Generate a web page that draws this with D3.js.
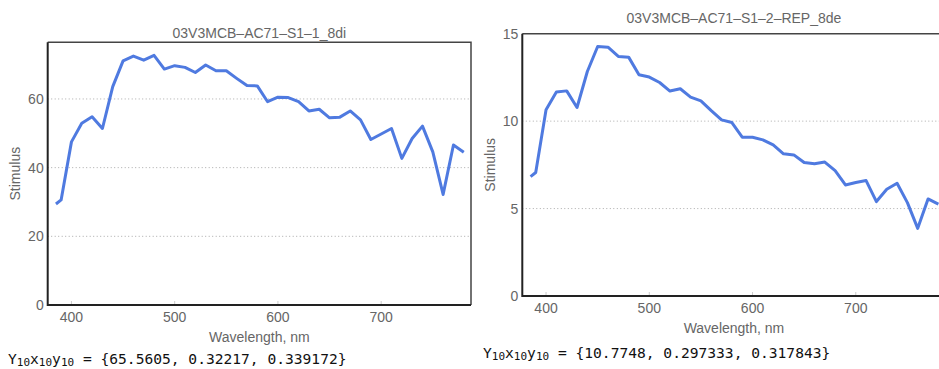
<!DOCTYPE html>
<html>
<head>
<meta charset="utf-8">
<script src="https://cdn.jsdelivr.net/npm/d3@7"></script>
<style>
  body { margin: 0; background: #fff; }
  svg { display: block; }
  text { font-family: "Liberation Sans", Arial, sans-serif; fill: #666; }
  .mono { font-family: "DejaVu Sans Mono", monospace; fill: #111; }
</style>
</head>
<body>
<div id="chart"></div>
<script>
const wavelengths = [385, 390, 400, 410, 420, 430, 440, 450, 460, 470, 480, 490, 500, 510, 520,
    530, 540, 550, 560, 570, 580, 590, 600, 610, 620, 630, 640, 650, 660, 670,
    680, 690, 700, 710, 720, 730, 740, 750, 760, 770, 780];

const stimulusLeft = [29.4, 30.6, 47.5, 52.9, 54.8, 51.4, 63.6, 71.1, 72.5, 71.3, 72.7, 68.7, 69.7, 69.2, 67.7,
    69.9, 68.2, 68.2, 66.0, 63.9, 63.8, 59.2, 60.5, 60.4, 59.2, 56.5, 57.0, 54.5, 54.7, 56.5,
    53.9, 48.2, 49.8, 51.4, 42.7, 48.5, 52.1, 44.6, 32.2, 46.6, 44.5];

const stimulusRight = [6.83, 7.06, 10.65, 11.66, 11.73, 10.78, 12.84, 14.27, 14.23, 13.7, 13.66, 12.65, 12.52, 12.21, 11.72,
    11.85, 11.37, 11.16, 10.6, 10.07, 9.92, 9.08, 9.08, 8.93, 8.64, 8.13, 8.07, 7.63, 7.56, 7.66,
    7.17, 6.35, 6.49, 6.6, 5.4, 6.1, 6.45, 5.34, 3.87, 5.55, 5.25];

const titles = ['03V3MCB\u2013AC71\u2013S1\u20131_8di', '03V3MCB\u2013AC71\u2013S1\u20132\u2013REP_8de'];
const xTicks = [400, 500, 600, 700];
const yTicksLeft = [0, 20, 40, 60];
const yTicksRight = [0, 5, 10, 15];
const yMaxes = [76.5, 15];
const summaryLeft = ['65.5605', '0.32217', '0.339172'];
const summaryRight = ['10.7748', '0.297333', '0.317843'];

const lineColor = '#4f7ae0';

const svg = d3.select('#chart').append('svg')
    .attr('width', 939)
    .attr('height', 369);

const panels = [
    { title: titles[0], values: stimulusLeft, yTicks: yTicksLeft, yMax: yMaxes[0], summary: summaryLeft,
      left: 47.7, top: 42.3, bottom: 305, titleY: 38, ylabX: 20, formX: 8, formY: 364 },
    { title: titles[1], values: stimulusRight, yTicks: yTicksRight, yMax: yMaxes[1], summary: summaryRight,
      left: 522.3, top: 33.7, bottom: 296, titleY: 23, ylabX: 495, formX: 483, formY: 358 }
];

panels.forEach(p => {
    const xScale = d3.scaleLinear().domain([377, 787]).range([p.left, p.left + 423.3]);
    const yScale = d3.scaleLinear().domain([0, p.yMax]).range([p.bottom, p.top]);
    const right = xScale(787);

    const g = svg.append('g');

    // dotted grid
    g.selectAll('line.grid')
        .data(p.yTicks.filter(t => t > 0 && t < p.yMax))
        .enter().append('line')
        .attr('x1', p.left).attr('x2', right)
        .attr('y1', d => yScale(d)).attr('y2', d => yScale(d))
        .attr('stroke', '#aaa')
        .attr('stroke-width', 1)
        .attr('stroke-dasharray', '1,2.5');

    // small ticks inside bottom
    g.selectAll('line.xt')
        .data(xTicks)
        .enter().append('line')
        .attr('x1', d => xScale(d)).attr('x2', d => xScale(d))
        .attr('y1', p.bottom).attr('y2', p.bottom - 4)
        .attr('stroke', '#ccc');

    const line = d3.line()
        .x((d, i) => xScale(wavelengths[i]))
        .y(d => yScale(d));

    g.append('path')
        .datum(p.values)
        .attr('d', line)
        .attr('fill', 'none')
        .attr('stroke', lineColor)
        .attr('stroke-width', 3)
        .attr('stroke-linejoin', 'round');

    // frame
    g.append('path')
        .attr('d', `M${p.left},${p.top}H${right}V${p.bottom}`)
        .attr('fill', 'none').attr('stroke', '#444').attr('stroke-width', 1.5);
    g.append('path')
        .attr('d', `M${p.left},${p.top}V${p.bottom}H${right}`)
        .attr('fill', 'none').attr('stroke', '#222').attr('stroke-width', 2);

    // tick labels
    g.selectAll('text.xl')
        .data(xTicks)
        .enter().append('text')
        .attr('x', d => xScale(d))
        .attr('y', p.bottom + 17)
        .attr('text-anchor', 'middle')
        .style('font-size', '14px')
        .text(d => d);

    g.selectAll('text.yl')
        .data(p.yTicks)
        .enter().append('text')
        .attr('x', p.left - 4)
        .attr('y', d => yScale(d) + 5)
        .attr('text-anchor', 'end')
        .style('font-size', '14px')
        .text(d => d);

    g.append('text')
        .attr('x', (p.left + right) / 2)
        .attr('y', p.titleY)
        .attr('text-anchor', 'middle')
        .style('font-size', '14px')
        .text(p.title);

    g.append('text')
        .attr('x', (p.left + right) / 2)
        .attr('y', p.bottom + 37)
        .attr('text-anchor', 'middle')
        .style('font-size', '14px')
        .text('Wavelength, nm');

    g.append('text')
        .attr('transform', `translate(${p.ylabX},${(p.top + p.bottom) / 2}) rotate(-90)`)
        .attr('text-anchor', 'middle')
        .style('font-size', '14px')
        .text('Stimulus');

    const f = g.append('text')
        .attr('class', 'mono')
        .attr('x', p.formX)
        .attr('y', p.formY)
        .style('font-size', '14.6px');
    ['Y', 'x', 'y'].forEach(c => {
        f.append('tspan').attr('y', p.formY).text(c);
        f.append('tspan').attr('y', p.formY + 1.5).style('font-size', '11px').text('10');
    });
    f.append('tspan').attr('y', p.formY).text(' = {' + p.summary.join(', ') + '}');
});
</script>
</body>
</html>
